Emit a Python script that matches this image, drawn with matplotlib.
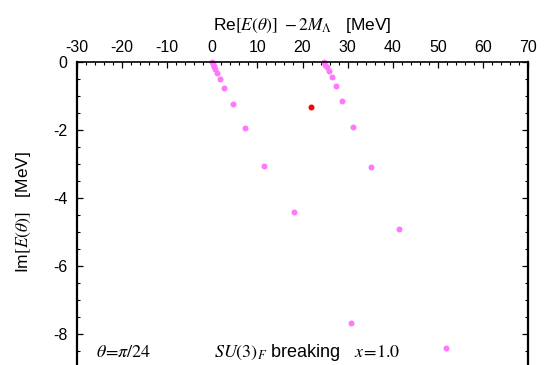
import matplotlib
matplotlib.use("Agg")
import matplotlib.pyplot as plt
from matplotlib.ticker import MultipleLocator

plt.rcParams['font.family'] = ['Liberation Sans', 'DejaVu Sans']
plt.rcParams['mathtext.fontset'] = 'stix'
plt.rcParams['axes.unicode_minus'] = False

# Data (Re E - 2M_Lambda, Im E) in MeV
left_re = [0.0, 0.15, 0.4, 0.7, 1.05, 1.7, 2.67, 4.6, 7.27, 11.56, 18.2, 30.7]
left_im = [-0.01, -0.05, -0.12, -0.2, -0.31, -0.51, -0.77, -1.24, -1.95, -3.06, -4.41, -7.68]
right_re = [24.73, 25.04, 25.4, 25.93, 26.44, 27.33, 28.82, 31.18, 35.11, 41.49, 51.78]
right_im = [-0.01, -0.08, -0.16, -0.27, -0.44, -0.71, -1.16, -1.90, -3.08, -4.90, -8.42]
res_re = [21.93]
res_im = [-1.33]

xticks = [-30, -20, -10, 0, 10, 20, 30, 40, 50, 60, 70]
yticks = [0, -2, -4, -6, -8]

W, H = 544, 365
fig = plt.figure(figsize=(W / 100, H / 100), dpi=100)
left_px, right_px, top_px, bot_px = 77, 528, 62, 402
ax = fig.add_axes([left_px / W, 1 - bot_px / H, (right_px - left_px) / W, (bot_px - top_px) / H])

violet = '#ff77ff'
ax.plot(left_re, left_im, 'o', color=violet, ms=4.3, mew=0, clip_on=False)
ax.plot(right_re, right_im, 'o', color=violet, ms=4.3, mew=0, clip_on=False)
ax.plot(res_re, res_im, 'o', color='#ff0000', ms=4.3, mew=0)

ax.set_xlim(-30, 70)
ax.set_ylim(-10, 0)
ax.set_xticks(xticks)
ax.set_yticks(yticks)
ax.xaxis.set_minor_locator(MultipleLocator(2))
ax.yaxis.set_minor_locator(MultipleLocator(0.5))
ax.tick_params(which='both', direction='in', top=True, bottom=True, left=True, right=True,
               labeltop=True, labelbottom=False, labelsize=11.5, colors='black')
ax.tick_params(which='major', length=4, width=0.9)
ax.tick_params(which='minor', length=2, width=0.8)
ax.tick_params(axis='x', pad=5)
ax.tick_params(axis='y', pad=7)

for side in ['left', 'right']:
    ax.spines[side].set_linewidth(1.6)
ax.spines['top'].set_linewidth(1.2)
ax.spines['bottom'].set_linewidth(1.2)

ax.xaxis.set_label_position('top')
ax.set_xlabel(r'Re$[E(\theta)]\ -2M_\Lambda$   [MeV]', fontsize=12.5, labelpad=7)
ax.set_ylabel(r'Im$[E(\theta)]$   [MeV]', fontsize=12.5)
ax.yaxis.set_label_coords(-0.098, 1 - (212 - top_px) / (bot_px - top_px))

ax.text(-25.8, -8.53, r'$\theta\!=\!\pi/24$', fontsize=13, va='center', ha='left')
ax.text(0.4, -8.53, r'$SU(3)_F$ breaking   $x\!=\!1.0$', fontsize=13, va='center', ha='left')

fig.savefig('out.png', dpi=100)
